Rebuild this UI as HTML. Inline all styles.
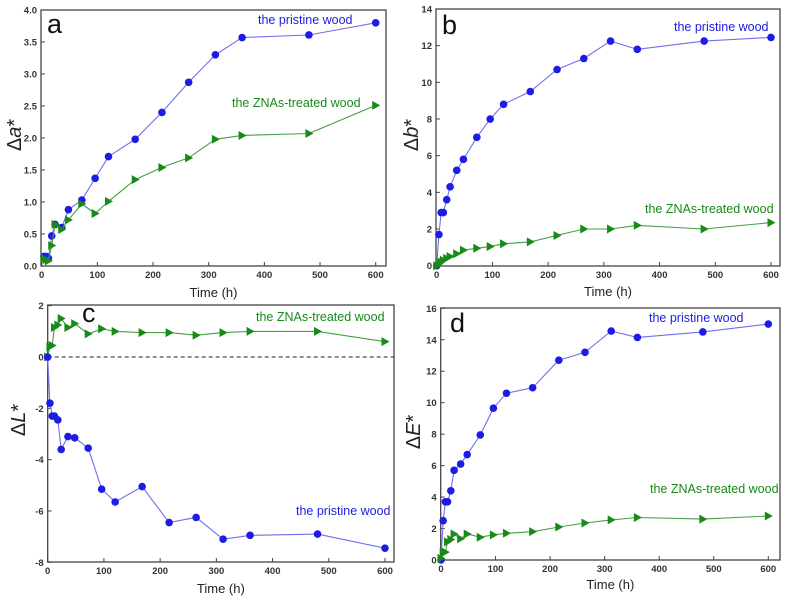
<!DOCTYPE html>
<html><head><meta charset="utf-8"><style>
html,body{margin:0;padding:0;background:#fff;}
svg{display:block;font-family:"Liberation Sans",Arial,sans-serif;}
</style></head><body>
<svg id="fig" width="787" height="601" viewBox="0 0 787 601" xmlns="http://www.w3.org/2000/svg"></svg>
<script>
const timesA=[4,8,12,18,24,36,48,72,96,120,168,216,264,312,360,480,600];
const aPristine=[0.15,0.15,0.12,0.47,0.65,0.6,0.88,1.03,1.37,1.71,1.98,2.4,2.87,3.3,3.57,3.61,3.8];
const aTreated=[0.12,0.1,0.08,0.32,0.65,0.57,0.72,0.97,0.82,1.01,1.35,1.54,1.69,1.98,2.04,2.07,2.51];
const times=[0,4,8,12,18,24,36,48,72,96,120,168,216,264,312,360,480,600];
const bPristine=[0,1.7,2.9,2.9,3.6,4.3,5.2,5.8,7.0,8.0,8.8,9.5,10.7,11.3,12.25,11.8,12.25,12.45];
const bTreated=[0,0.1,0.2,0.3,0.4,0.5,0.65,0.85,0.95,1.05,1.2,1.3,1.65,2.0,2.0,2.2,2.0,2.35];
const cPristine=[0,-1.8,-2.3,-2.3,-2.45,-3.6,-3.1,-3.15,-3.55,-5.15,-5.65,-5.05,-6.45,-6.25,-7.1,-6.95,-6.9,-7.45];
const cTreated=[0,0.4,0.45,1.15,1.25,1.5,1.15,1.3,0.9,1.1,1.0,0.95,0.95,0.85,0.95,1.0,1.0,0.6];
const dPristine=[0,2.5,3.7,3.7,4.4,5.7,6.1,6.7,7.95,9.65,10.6,10.95,12.7,13.2,14.55,14.15,14.5,15.0];
const dTreated=[0.1,0.5,0.5,1.15,1.3,1.65,1.35,1.65,1.45,1.6,1.7,1.8,2.1,2.35,2.55,2.7,2.6,2.8];
const xTicks=[0,100,200,300,400,500,600];
const aTicks=[0,0.5,1,1.5,2,2.5,3,3.5,4];
const bTicks=[0,2,4,6,8,10,12,14];
const cTicks=[-8,-6,-4,-2,0,2];
const dTicks=[0,2,4,6,8,10,12,14,16];

const NS="http://www.w3.org/2000/svg";
const svg=document.getElementById('fig');
function mk(tag,attrs,parent){const e=document.createElementNS(NS,tag);for(const k in attrs)e.setAttribute(k,attrs[k]);(parent||svg).appendChild(e);return e;}

function panel(p){
  const g=mk('g',{});
  
  
  const sx=v=>p.x0+(v-0)*(p.x600-p.x0)/600;
  const sy=v=>p.yb+(v-p.ymin)*(p.yt-p.yb)/(p.ymax-p.ymin);
  const fr=mk('rect',{x:p.L,y:p.T,width:p.R-p.L,height:p.B-p.T,fill:'none',stroke:'#444','stroke-width':1.3},g);
  
  
  xTicks.forEach(t=>{
    const x=sx(t);
    mk('line',{x1:x,y1:p.B,x2:x,y2:p.B-4,stroke:'#444'},g);
    const tx=mk('text',{x:x,y:p.B+12,'text-anchor':'middle','font-size':9.5,'font-weight':'bold',fill:'#333'},g);
    tx.textContent=t;
    
    
  });
  p.yticks.forEach(t=>{
    const y=sy(t);
    mk('line',{x1:p.L,y1:y,x2:p.L+4,y2:y,stroke:'#444'},g);
    const tx=mk('text',{x:p.L-4,y:y+3.5,'text-anchor':'end','font-size':9.5,'font-weight':'bold',fill:'#333'},g);
    tx.textContent=p.fmt(t);
    
    
  });
  const xt=mk('text',{x:(p.L+p.R)/2,y:p.xlabY,'text-anchor':'middle','font-size':13,fill:'#222'},g);
  xt.textContent='Time (h)';
  
  
  const yt=mk('text',{transform:`translate(${p.ylabX},${p.ylabY}) rotate(-90)`,'text-anchor':'middle','font-size':20,fill:'#222'},g);
  yt.innerHTML='Δ<tspan font-style="italic">'+p.ysym+'</tspan>*';
  
  
  const lt=mk('text',{x:p.letX,y:p.letY,'font-size':27,fill:'#111'},g);
  lt.textContent=p.id;
  
  
  if(p.zero){const zl=mk('line',{x1:p.L,y1:sy(0),x2:p.R,y2:sy(0),stroke:'#222','stroke-dasharray':'4,3'},g);
    }
  p.series.forEach(s=>{
    const pts=s.x.map((t,i)=>sx(t).toFixed(1)+','+sy(s.y[i]).toFixed(1)).join(' ');
    const pl=mk('polyline',{points:pts,fill:'none',stroke:s.line,'stroke-width':1.1},g);
    
    
    s.x.forEach((t,i)=>{
      const x=sx(t),y=sy(s.y[i]);
      let m;
      if(s.tri) m=mk('polygon',{points:`${x-3.5},${y-4.5} ${x+4.5},${y} ${x-3.5},${y+4.5}`,fill:s.col},g);
      else m=mk('circle',{cx:x,cy:y,r:3.8,fill:s.col},g);
      
      
    });
    const lab=mk('text',{x:s.lx,y:s.ly,'font-size':12.5,fill:s.col},g);
    lab.textContent=s.label;
    
    
  });
}
const BLUE='#1c1ce6',BL='#7070ee',GREEN='#178a17',GL='#45a045';
const f1=v=>v.toFixed(1), f0=v=>String(v);
panel({id:'a',L:41,R:386,T:10,B:266,x0:41.7,x600:375.7,ymin:0,ymax:4,yb:266,yt:10,yticks:aTicks,fmt:f1,xlabY:297,ylabX:21,ylabY:135,ysym:'a',letX:47,letY:33,
  series:[{name:'pristine-wood-a',x:timesA,y:aPristine,col:BLUE,line:BL,label:'the pristine wood',lx:258,ly:24},
          {name:'znas-treated-wood-a',x:timesA,y:aTreated,col:GREEN,line:GL,tri:true,label:'the ZNAs-treated  wood',lx:232,ly:107}]});
panel({id:'b',L:436,R:780,T:9,B:266,x0:436.7,x600:771,ymin:0,ymax:14,yb:265.7,yt:9,yticks:bTicks,fmt:f0,xlabY:296,ylabX:418,ylabY:135,ysym:'b',letX:442,letY:34,
  series:[{name:'pristine-wood-b',x:times,y:bPristine,col:BLUE,line:BL,label:'the pristine wood',lx:674,ly:31},
          {name:'znas-treated-wood-b',x:times,y:bTreated,col:GREEN,line:GL,tri:true,label:'the ZNAs-treated  wood',lx:645,ly:213}]});
panel({id:'c',L:47.7,R:394,T:305,B:562,x0:47.7,x600:385,ymin:-8,ymax:2,yb:562.3,yt:305.7,yticks:cTicks,fmt:f0,xlabY:593,ylabX:25,ylabY:420,ysym:'L',letX:82,letY:322,zero:true,
  series:[{name:'znas-treated-wood-c',x:times,y:cTreated,col:GREEN,line:GL,tri:true,label:'the ZNAs-treated  wood',lx:256,ly:321},
          {name:'pristine-wood-c',x:times,y:cPristine,col:BLUE,line:BL,label:'the pristine wood',lx:296,ly:515}]});
panel({id:'d',L:440.7,R:780,T:308,B:560,x0:441,x600:768.3,ymin:0,ymax:16,yb:560,yt:308.3,yticks:dTicks,fmt:f0,xlabY:589,ylabX:420,ylabY:432,ysym:'E',letX:450,letY:332,
  series:[{name:'pristine-wood-d',x:times,y:dPristine,col:BLUE,line:BL,label:'the pristine wood',lx:649,ly:322},
          {name:'znas-treated-wood-d',x:times,y:dTreated,col:GREEN,line:GL,tri:true,label:'the ZNAs-treated  wood',lx:650,ly:493}]});
</script>
</body></html>
